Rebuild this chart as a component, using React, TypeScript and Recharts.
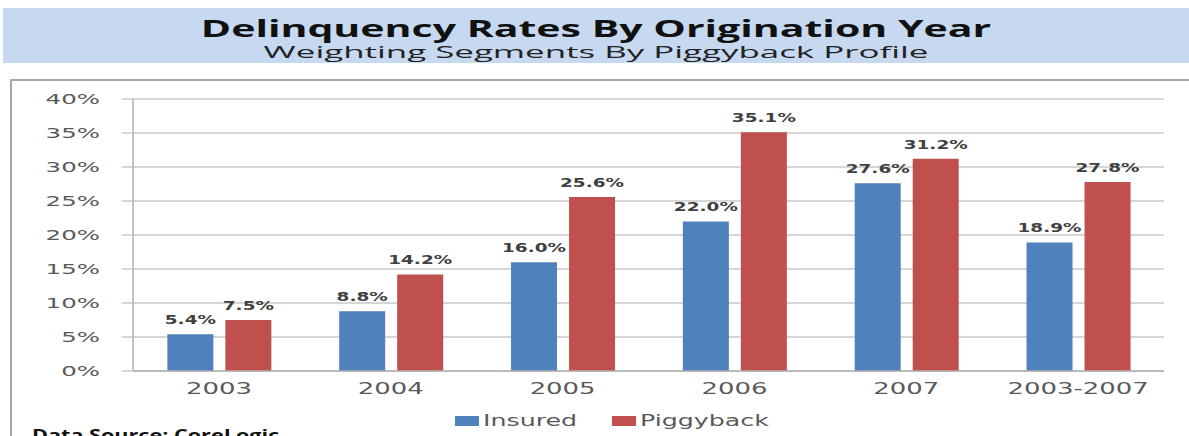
import { Bar, BarChart, CartesianGrid, LabelList, Legend, XAxis, YAxis } from 'recharts'

const years = ['2003', '2004', '2005', '2006', '2007', '2003-2007']
const insured = [5.4, 8.8, 16.0, 22.0, 27.6, 18.9]
const piggyback = [7.5, 14.2, 25.6, 35.1, 31.2, 27.8]
const yTicks = [0, 5, 10, 15, 20, 25, 30, 35, 40]

const data = years.map((year, i) => ({ year, insured: insured[i], piggyback: piggyback[i] }))

const BLUE = '#4f81bd'
const RED = '#c0504d'
const FONT = '"DejaVu Sans", Verdana, sans-serif'

function YTick({ x, y, payload }: any) {
  return (
    <text
      transform={`translate(${x},${y + 5}) scale(1.75,1)`}
      textAnchor="end"
      fill="#595959"
      fontSize={14}
      fontFamily={FONT}
    >
      {`${payload.value}%`}
    </text>
  )
}

function XTick({ x, y, payload }: any) {
  return (
    <text
      transform={`translate(${x},${y + 15}) scale(1.62,1)`}
      textAnchor="middle"
      fill="#595959"
      fontSize={16}
      fontFamily={FONT}
    >
      {payload.value}
    </text>
  )
}

function ValueLabel({ x, y, width, value }: any) {
  return (
    <text
      transform={`translate(${x + width / 2},${y - 10}) scale(1.42,1)`}
      textAnchor="middle"
      fill="#404040"
      fontSize={13}
      fontWeight="bold"
      fontFamily={FONT}
    >
      {`${Number(value).toFixed(1)}%`}
    </text>
  )
}

function LegendContent() {
  const item = (color: string, label: string, left: number) => (
    <div style={{ position: 'absolute', left, top: 0, display: 'flex', alignItems: 'center' }}>
      <span style={{ width: 24, height: 10, background: color, display: 'inline-block' }} />
      <span
        style={{
          marginLeft: 4,
          fontFamily: FONT,
          fontSize: 16,
          color: '#595959',
          display: 'inline-block',
          transform: 'scaleX(1.58)',
          transformOrigin: 'left center',
          lineHeight: '20px',
        }}
      >
        {label}
      </span>
    </div>
  )
  return (
    <div style={{ position: 'relative', height: 20 }}>
      {item(BLUE, 'Insured', 0)}
      {item(RED, 'Piggyback', 157)}
    </div>
  )
}

export default function App() {
  return (
    <div style={{ position: 'absolute', left: 0, top: 0, width: 1189, height: 436, background: '#fff', overflow: 'hidden' }}>
      <div
        style={{
          position: 'absolute',
          left: 3,
          top: 8,
          width: 1186,
          height: 55,
          background: '#c6d9f1',
          textAlign: 'center',
          fontFamily: '"Open Sans", sans-serif',
        }}
      >
        <div
          style={{
            position: 'absolute',
            left: 0,
            right: 0,
            top: 9,
            fontSize: 24,
            fontWeight: 700,
            color: '#111',
            transform: 'scaleX(1.71)',
            lineHeight: '22px',
            whiteSpace: 'nowrap',
          }}
        >
          Delinquency Rates By Origination Year
        </div>
        <div
          style={{
            position: 'absolute',
            left: 0,
            right: 0,
            top: 37,
            fontSize: 16,
            color: '#222',
            transform: 'scaleX(2.18)',
            lineHeight: '14px',
            whiteSpace: 'nowrap',
          }}
        >
          Weighting Segments By Piggyback Profile
        </div>
      </div>
      <div
        style={{
          position: 'absolute',
          left: 10,
          top: 79,
          width: 1179,
          height: 360,
          borderTop: '2px solid #a6a6a6',
          borderLeft: '2px solid #a6a6a6',
        }}
      />
      <div style={{ position: 'absolute', left: 0, top: 0 }}>
        <BarChart
          width={1189}
          height={436}
          data={data}
          margin={{ top: 99, right: 25, bottom: 15, left: 73 }}
          barCategoryGap="20%"
          barGap={12}
        >
          <CartesianGrid vertical={false} stroke="#c8c8c8" strokeWidth={1.5} />
          <XAxis
            dataKey="year"
            height={30}
            axisLine={{ stroke: '#b0b0b0', strokeWidth: 1.5 }}
            tickLine={false}
            tick={<XTick />}
            interval={0}
          />
          <YAxis
            width={60}
            domain={[0, 40]}
            ticks={yTicks}
            interval={0}
            tickSize={11}
            tickMargin={22}
            axisLine={{ stroke: '#b0b0b0', strokeWidth: 1.5 }}
            tickLine={{ stroke: '#c8c8c8', strokeWidth: 1.5 }}
            tick={<YTick />}
          />
          <Legend
            content={<LegendContent />}
            wrapperStyle={{ position: 'absolute', left: 455, top: 411, width: 340, height: 20 }}
          />
          <Bar dataKey="insured" name="Insured" fill={BLUE} isAnimationActive={false}>
            <LabelList dataKey="insured" content={<ValueLabel />} />
          </Bar>
          <Bar dataKey="piggyback" name="Piggyback" fill={RED} isAnimationActive={false}>
            <LabelList dataKey="piggyback" content={<ValueLabel />} />
          </Bar>
        </BarChart>
      </div>
      <div
        style={{
          position: 'absolute',
          left: 32,
          top: 425,
          fontFamily: '"Open Sans", sans-serif',
          fontWeight: 700,
          fontSize: 16,
          color: '#111',
          transform: 'scaleX(1.35)',
          transformOrigin: 'left top',
          lineHeight: '20px',
          whiteSpace: 'nowrap',
        }}
      >
        Data Source: CoreLogic
      </div>
    </div>
  )
}
